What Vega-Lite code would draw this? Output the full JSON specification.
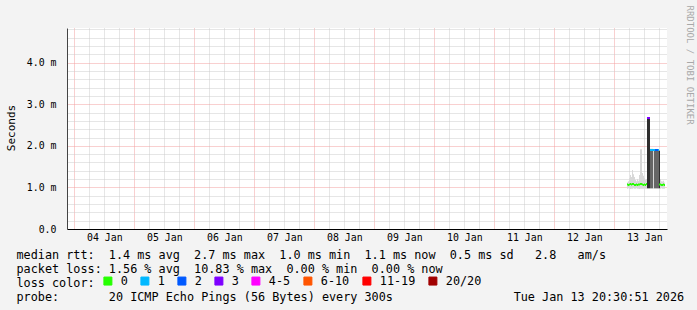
{
  "$schema": "https://vega.github.io/schema/vega-lite/v6.json",
  "width": 600,
  "height": 201,
  "autosize": "none",
  "padding": {"left": 67, "top": 28, "right": 30, "bottom": 81},
  "background": "#f3f3f3",
  "config": {
    "view": {"stroke": null, "fill": "#ffffff"}
  },
  "title": {
    "text": "Last 10 Days from 35472694021e to University of Minnesota",
    "font": "DejaVu Sans Mono",
    "fontSize": 13.3,
    "fontWeight": "normal",
    "color": "#000000",
    "anchor": "middle",
    "dx": -19,
    "dy": -6,
    "offset": 4
  },
  "data": {
    "values": [
      {"t": "2026-01-13T05:05:00Z", "t2": "2026-01-13T05:29:00Z", "lo": 0.97, "hi": 1.12, "med": 1.07, "loss": "0"},
      {"t": "2026-01-13T05:29:00Z", "t2": "2026-01-13T05:53:00Z", "lo": 0.98, "hi": 1.15, "med": 1.06, "loss": "0"},
      {"t": "2026-01-13T05:53:00Z", "t2": "2026-01-13T06:17:00Z", "lo": 0.97, "hi": 1.22, "med": 1.07, "loss": "0"},
      {"t": "2026-01-13T06:17:00Z", "t2": "2026-01-13T06:41:00Z", "lo": 0.96, "hi": 1.30, "med": 1.08, "loss": "0"},
      {"t": "2026-01-13T06:41:00Z", "t2": "2026-01-13T07:05:00Z", "lo": 0.97, "hi": 1.25, "med": 1.07, "loss": "0"},
      {"t": "2026-01-13T07:05:00Z", "t2": "2026-01-13T07:29:00Z", "lo": 0.97, "hi": 1.42, "med": 1.08, "loss": "0"},
      {"t": "2026-01-13T07:29:00Z", "t2": "2026-01-13T07:53:00Z", "lo": 0.98, "hi": 1.32, "med": 1.08, "loss": "0"},
      {"t": "2026-01-13T07:53:00Z", "t2": "2026-01-13T08:17:00Z", "lo": 0.97, "hi": 1.25, "med": 1.06, "loss": "0"},
      {"t": "2026-01-13T08:17:00Z", "t2": "2026-01-13T08:41:00Z", "lo": 0.97, "hi": 1.18, "med": 1.06, "loss": "0"},
      {"t": "2026-01-13T08:41:00Z", "t2": "2026-01-13T09:05:00Z", "lo": 0.98, "hi": 1.15, "med": 1.07, "loss": "0"},
      {"t": "2026-01-13T09:05:00Z", "t2": "2026-01-13T09:29:00Z", "lo": 0.97, "hi": 1.20, "med": 1.06, "loss": "0"},
      {"t": "2026-01-13T09:29:00Z", "t2": "2026-01-13T09:53:00Z", "lo": 0.97, "hi": 1.16, "med": 1.07, "loss": "0"},
      {"t": "2026-01-13T09:53:00Z", "t2": "2026-01-13T10:17:00Z", "lo": 0.96, "hi": 1.30, "med": 1.07, "loss": "0"},
      {"t": "2026-01-13T10:17:00Z", "t2": "2026-01-13T10:41:00Z", "lo": 0.97, "hi": 1.92, "med": 1.08, "loss": "0"},
      {"t": "2026-01-13T10:41:00Z", "t2": "2026-01-13T11:05:00Z", "lo": 0.97, "hi": 1.92, "med": 1.08, "loss": "0"},
      {"t": "2026-01-13T11:05:00Z", "t2": "2026-01-13T11:29:00Z", "lo": 0.97, "hi": 1.35, "med": 1.07, "loss": "0"},
      {"t": "2026-01-13T11:29:00Z", "t2": "2026-01-13T11:53:00Z", "lo": 0.97, "hi": 1.28, "med": 1.06, "loss": "0"},
      {"t": "2026-01-13T11:53:00Z", "t2": "2026-01-13T12:17:00Z", "lo": 0.98, "hi": 1.22, "med": 1.07, "loss": "0"},
      {"t": "2026-01-13T12:17:00Z", "t2": "2026-01-13T12:41:00Z", "lo": 0.97, "hi": 1.18, "med": 1.06, "loss": "0"},
      {"t": "2026-01-13T12:41:00Z", "t2": "2026-01-13T13:05:00Z", "lo": 0.97, "hi": 1.20, "med": 1.08, "loss": "0"},
      {"t": "2026-01-13T13:05:00Z", "t2": "2026-01-13T13:29:00Z", "lo": 0.97, "hi": 2.68, "dlo": 0.98, "dhi": 2.66, "med": 2.67, "loss": "3"},
      {"t": "2026-01-13T13:29:00Z", "t2": "2026-01-13T13:53:00Z", "lo": 0.97, "hi": 2.68, "dlo": 0.98, "dhi": 2.66, "med": 2.67, "loss": "3"},
      {"t": "2026-01-13T13:53:00Z", "t2": "2026-01-13T14:17:00Z", "lo": 0.97, "hi": 2.68, "dlo": 0.98, "dhi": 2.66, "med": 2.67, "loss": "3"},
      {"t": "2026-01-13T14:17:00Z", "t2": "2026-01-13T14:41:00Z", "lo": 0.97, "hi": 1.93, "mlo": 0.98, "mhi": 1.90, "med": 1.90, "loss": "1"},
      {"t": "2026-01-13T14:41:00Z", "t2": "2026-01-13T15:05:00Z", "lo": 0.97, "hi": 1.93, "mlo": 0.98, "mhi": 1.90, "med": 1.90, "loss": "1"},
      {"t": "2026-01-13T15:05:00Z", "t2": "2026-01-13T15:29:00Z", "lo": 0.97, "hi": 1.93, "mlo": 0.98, "mhi": 1.90, "med": 1.90, "loss": "1"},
      {"t": "2026-01-13T15:29:00Z", "t2": "2026-01-13T15:53:00Z", "lo": 0.97, "hi": 1.92, "med": 1.90, "loss": "1"},
      {"t": "2026-01-13T15:53:00Z", "t2": "2026-01-13T16:17:00Z", "lo": 0.97, "hi": 1.92, "mlo": 0.98, "mhi": 1.90, "med": 1.90, "loss": "1"},
      {"t": "2026-01-13T16:17:00Z", "t2": "2026-01-13T16:41:00Z", "lo": 0.97, "hi": 1.92, "mlo": 0.98, "mhi": 1.90, "med": 1.90, "loss": "2"},
      {"t": "2026-01-13T16:41:00Z", "t2": "2026-01-13T17:05:00Z", "lo": 0.97, "hi": 1.92, "mlo": 0.98, "mhi": 1.90, "med": 1.90, "loss": "2"},
      {"t": "2026-01-13T17:05:00Z", "t2": "2026-01-13T17:29:00Z", "lo": 0.97, "hi": 1.92, "mlo": 0.98, "mhi": 1.90, "med": 1.90, "loss": "2"},
      {"t": "2026-01-13T17:29:00Z", "t2": "2026-01-13T17:53:00Z", "lo": 0.97, "hi": 1.92, "mlo": 0.98, "mhi": 1.90, "med": 1.90, "loss": "1"},
      {"t": "2026-01-13T17:53:00Z", "t2": "2026-01-13T18:17:00Z", "lo": 0.97, "hi": 1.90, "dlo": 0.98, "dhi": 1.88, "med": 1.07, "loss": "0"},
      {"t": "2026-01-13T18:17:00Z", "t2": "2026-01-13T18:41:00Z", "lo": 0.97, "hi": 1.20, "med": 1.07, "loss": "0"},
      {"t": "2026-01-13T18:41:00Z", "t2": "2026-01-13T19:05:00Z", "lo": 0.98, "hi": 1.15, "med": 1.06, "loss": "0"},
      {"t": "2026-01-13T19:05:00Z", "t2": "2026-01-13T19:29:00Z", "lo": 0.97, "hi": 1.14, "med": 1.06, "loss": "0"},
      {"t": "2026-01-13T19:29:00Z", "t2": "2026-01-13T19:53:00Z", "lo": 0.97, "hi": 1.16, "med": 1.07, "loss": "0"},
      {"t": "2026-01-13T19:53:00Z", "t2": "2026-01-13T20:17:00Z", "lo": 0.97, "hi": 1.12, "med": 1.06, "loss": "0"}
    ]
  },
  "resolve": {"axis": {"y": "independent"}},
  "layer": [
    {
      "mark": {"type": "rect", "fill": "#d8d8d8"},
      "encoding": {
        "x": {
          "field": "t", "type": "temporal",
          "scale": {"type": "utc", "domain": [1767474300000, 1768338300000]},
          "axis": {
            "values": [1767484800000, 1767506400000, 1767528000000, 1767549600000, 1767571200000, 1767592800000, 1767614400000, 1767636000000, 1767657600000, 1767679200000, 1767700800000, 1767722400000, 1767744000000, 1767765600000, 1767787200000, 1767808800000, 1767830400000, 1767852000000, 1767873600000, 1767895200000, 1767916800000, 1767938400000, 1767960000000, 1767981600000, 1768003200000, 1768024800000, 1768046400000, 1768068000000, 1768089600000, 1768111200000, 1768132800000, 1768154400000, 1768176000000, 1768197600000, 1768219200000, 1768240800000, 1768262400000, 1768284000000, 1768305600000, 1768327200000],
            "tickCount": 200,
            "grid": true,
            "gridColor": {"condition": {"test": "utchours(datum.value) == 0", "value": "#f2a0a0"}, "value": "#cccccc"},
            "gridDash": [1, 1],
            "ticks": false,
            "domainColor": "#000000",
            "labelExpr": "utchours(datum.value) == 12 ? utcFormat(datum.value, '%d %b') : ''",
            "labelOverlap": false,
            "labelFont": "DejaVu Sans Mono",
            "labelFontSize": 9.9,
            "labelColor": "#000000",
            "labelBaseline": "top",
            "labelPadding": 3,
            "title": ["median\u00a0rtt:\u00a0\u00a01.4\u00a0ms\u00a0avg\u00a0\u00a02.7\u00a0ms\u00a0max\u00a0\u00a01.0\u00a0ms\u00a0min\u00a0\u00a01.1\u00a0ms\u00a0now\u00a0\u00a00.5\u00a0ms\u00a0sd\u00a0\u00a0\u00a02.8\u00a0\u00a0\u00a0am/s",
                      "packet\u00a0loss:\u00a01.56\u00a0%\u00a0avg\u00a0\u00a010.83\u00a0%\u00a0max\u00a0\u00a00.00\u00a0%\u00a0min\u00a0\u00a00.00\u00a0%\u00a0now",
                      "loss\u00a0color:",
                      "probe:\u00a0\u00a0\u00a0\u00a0\u00a0\u00a0\u00a020\u00a0ICMP\u00a0Echo\u00a0Pings\u00a0(56\u00a0Bytes)\u00a0every\u00a0300s\u00a0\u00a0\u00a0\u00a0\u00a0\u00a0\u00a0\u00a0\u00a0\u00a0\u00a0\u00a0\u00a0\u00a0\u00a0\u00a0\u00a0Tue\u00a0Jan\u00a013\u00a020:30:51\u00a02026"],
            "titleFont": "DejaVu Sans Mono",
            "titleFontSize": 11.8,
            "titleFontWeight": "normal",
            "titleColor": "#000000",
            "titleX": -51,
            "titleY": 29.7,
            "titleAlign": "left",
            "titleAnchor": "start",
            "titleBaseline": "alphabetic",
            "titleLineHeight": 13.9
          }
        },
        "x2": {"field": "t2"},
        "y": {
          "field": "lo", "type": "quantitative",
          "scale": {"domain": [0, 4.835], "nice": false},
          "axis": {
            "values": [0, 0.2, 0.4, 0.6, 0.8, 1, 1.2, 1.4, 1.6, 1.8, 2, 2.2, 2.4, 2.6, 2.8, 3, 3.2, 3.4, 3.6, 3.8, 4, 4.2, 4.4, 4.6, 4.8],
            "tickCount": 200,
            "grid": true,
            "gridColor": {"condition": {"test": "datum.value > 0.5 && abs(datum.value - round(datum.value)) < 0.01", "value": "#f2a0a0"}, "value": "#cccccc"},
            "gridDash": [1, 1],
            "ticks": false,
            "domainColor": "#444444",
            "labelExpr": "abs(datum.value - round(datum.value)) < 0.01 ? (datum.value == 0 ? '0.0' : format(datum.value, '.1f') + ' m') : ''",
            "labelOverlap": false,
            "labelFont": "DejaVu Sans Mono",
            "labelFontSize": 9.9,
            "labelColor": "#000000",
            "labelPadding": 11,
            "title": "Seconds",
            "titleFont": "DejaVu Sans Mono",
            "titleFontSize": 11,
            "titleFontWeight": "normal",
            "titleColor": "#000000",
            "titleAngle": -90,
            "titleX": -56,
            "titleY": 99.5,
            "titleAlign": "center",
            "titleBaseline": "middle"
          }
        },
        "y2": {"field": "hi"}
      }
    },
    {
      "mark": {"type": "rect", "fill": "#666666"},
      "encoding": {
        "x": {"field": "t", "type": "temporal"},
        "x2": {"field": "t2"},
        "y": {
          "field": "mlo", "type": "quantitative",
          "axis": {
            "orient": "right",
            "title": "RRDTOOL / TOBI OETIKER",
            "titleAngle": 90,
            "titleX": 22,
            "titleY": -23,
            "titleAlign": "left",
            "titleBaseline": "middle",
            "titleFont": "DejaVu Sans Mono",
            "titleFontSize": 9,
            "titleFontWeight": "normal",
            "titleColor": "#a8a8a8",
            "labels": false,
            "ticks": false,
            "domain": false,
            "grid": false
          }
        },
        "y2": {"field": "mhi"}
      }
    },
    {
      "mark": {"type": "rect", "fill": "#2f2f2f"},
      "encoding": {
        "x": {"field": "t", "type": "temporal"},
        "x2": {"field": "t2"},
        "y": {"field": "dlo", "type": "quantitative", "axis": null},
        "y2": {"field": "dhi"}
      }
    },
    {
      "mark": {"type": "rule", "strokeWidth": 2},
      "encoding": {
        "x": {"field": "t", "type": "temporal"},
        "x2": {"field": "t2"},
        "y": {"field": "med", "type": "quantitative", "axis": null},
        "color": {
          "field": "loss", "type": "nominal",
          "scale": {
            "domain": ["0", "1", "2", "3", "4-5", "6-10", "11-19", "20/20"],
            "range": ["#26ff00", "#00b8ff", "#0059ff", "#7e00ff", "#ff00ff", "#ff5500", "#ff0000", "#a10000"]
          },
          "legend": {
            "orient": "none",
            "direction": "horizontal",
            "legendX": 35,
            "legendY": 247,
            "padding": 0,
            "title": null,
            "symbolType": "square",
            "symbolSize": 64,
            "labelFont": "DejaVu Sans Mono",
            "labelFontSize": 11.8,
            "labelColor": "#000000",
            "labelOffset": 7,
            "columnPadding": 10,
            "encode": {
              "symbols": {
                "update": {
                  "fill": {"scale": "color", "field": "value"},
                  "stroke": {"value": "#000000"},
                  "strokeWidth": {"value": 1},
                  "opacity": {"value": 1}
                }
              }
            }
          }
        }
      }
    }
  ]
}
